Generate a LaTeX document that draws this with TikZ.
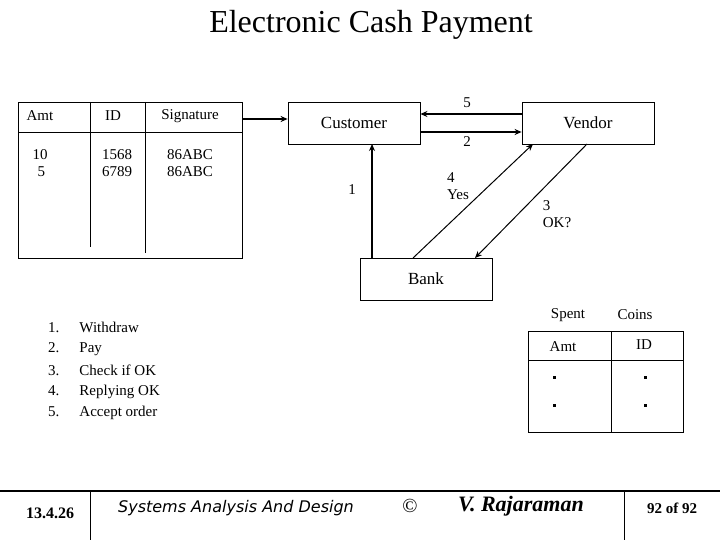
\documentclass[tikz,border=0pt]{standalone}
\usepackage{fontspec}
\setmainfont{Liberation Serif}
\newfontfamily\footsans{DejaVu Sans}
\usetikzlibrary{arrows.meta}
\begin{document}
\begin{tikzpicture}[x=1pt,y=-1pt,
  box/.style={draw,line width=0.8pt,minimum width=132pt,minimum height=42pt,inner sep=0pt},
  t/.style={font=\fontsize{15}{17}\selectfont,inner sep=0pt},
  ar/.style={line width=1.4pt,-{Stealth[length=7pt,width=6pt]}},
  ln/.style={line width=0.8pt}]
\useasboundingbox (0,0) rectangle (720,540);
\fill[white] (0,0) rectangle (720,540);
\node[font=\fontsize{32}{36}\selectfont] (title) at (371,25) {Electronic Cash Payment};
% left table
\draw[ln] (18,102) rectangle (242,258);
\draw[ln] (18,132) -- (242,132);
\draw[ln] (90,102) -- (90,247);
\draw[ln] (145,102) -- (145,253);
\node[t] (h1) at (40,116) {Amt};
\node[t] (h2) at (113,116) {ID};
\node[t] (h3) at (190,116) {Signature};
\node[t] (r1) at (40,155) {10};
\node[t] (r2) at (40,172) {\,5};
\node[t] (r3) at (117,155) {1568};
\node[t] (r4) at (117,172) {6789};
\node[t] (r5) at (190,155) {86ABC};
\node[t] (r6) at (190,172) {86ABC};
\coordinate (tabr) at (242,119);
% boxes
\node[box,font=\fontsize{17}{19}\selectfont] (cust) at (354,123) {Customer};
\node[box,font=\fontsize{17}{19}\selectfont] (vend) at (588,123) {Vendor};
\node[box,minimum height=42pt,font=\fontsize{17}{19}\selectfont] (bank) at (426,279) {Bank};
\draw[ar] (tabr) -- (tabr -| cust.west);
\draw[ar] ([yshift=9pt]vend.west) -- ([yshift=9pt]cust.east);
\draw[ar] ([yshift=-9pt]cust.east) -- ([yshift=-9pt]vend.west);
\draw[ar,line width=1.2pt] (372,258) -- (372,144);
\draw[ar,line width=1pt] (413,258) -- (533,144);
\draw[ar,line width=1pt] (587,144) -- (475,258);
\node[t] (l5) at (467,103) {5};
\node[t] (l2) at (467,142) {2};
\node[t] (l1) at (352,190) {1};
\node[t,align=left] (l4) at (458,186) {4\\Yes};
\node[t,align=left] (l3) at (557,214) {3\\OK?};
% list
\foreach \n/\s/\y in {1/Withdraw/327,2/Pay/349,3/Check if OK/370,4/Replying OK/392,5/Accept order/413}
  \node[t,anchor=west] (li\n) at (48,\y) {\n.\hspace{20pt}\s};
% right table
\node[t] (sp) at (568,315) {Spent};
\node[t] (co) at (635,315) {Coins};
\draw[ln] (528,331) rectangle (683,432);
\draw[ln] (528,360) -- (683,360);
\draw[ln] (611,331) -- (611,432);
\node[t] (am) at (563,347) {Amt};
\node[t] (id) at (644,345) {ID};
\foreach \y in {376,404} {\fill (553,\y) rectangle (556,\y+3); \fill (644,\y) rectangle (647,\y+3);}
% footer
\draw[line width=1.5pt] (0,491) -- (720,491);
\draw[ln] (90,491) -- (90,540);
\draw[ln] (624,491) -- (624,540);
\node[font=\fontsize{16}{18}\selectfont\bfseries] (d) at (50,513) {13.4.26};
\node[font=\footsans\fontsize{16}{18}\selectfont\itshape] (sad) at (236,508) {Systems Analysis And Design};
\node[font=\fontsize{20}{22}\selectfont] (cp) at (410,506) {©};
\node[font=\fontsize{22}{24}\selectfont\bfseries\itshape] (vr) at (521,506) {V. Rajaraman};
\node[font=\fontsize{15}{17}\selectfont\bfseries] (pg) at (672,508) {92 of 92};
\end{tikzpicture}
\end{document}
